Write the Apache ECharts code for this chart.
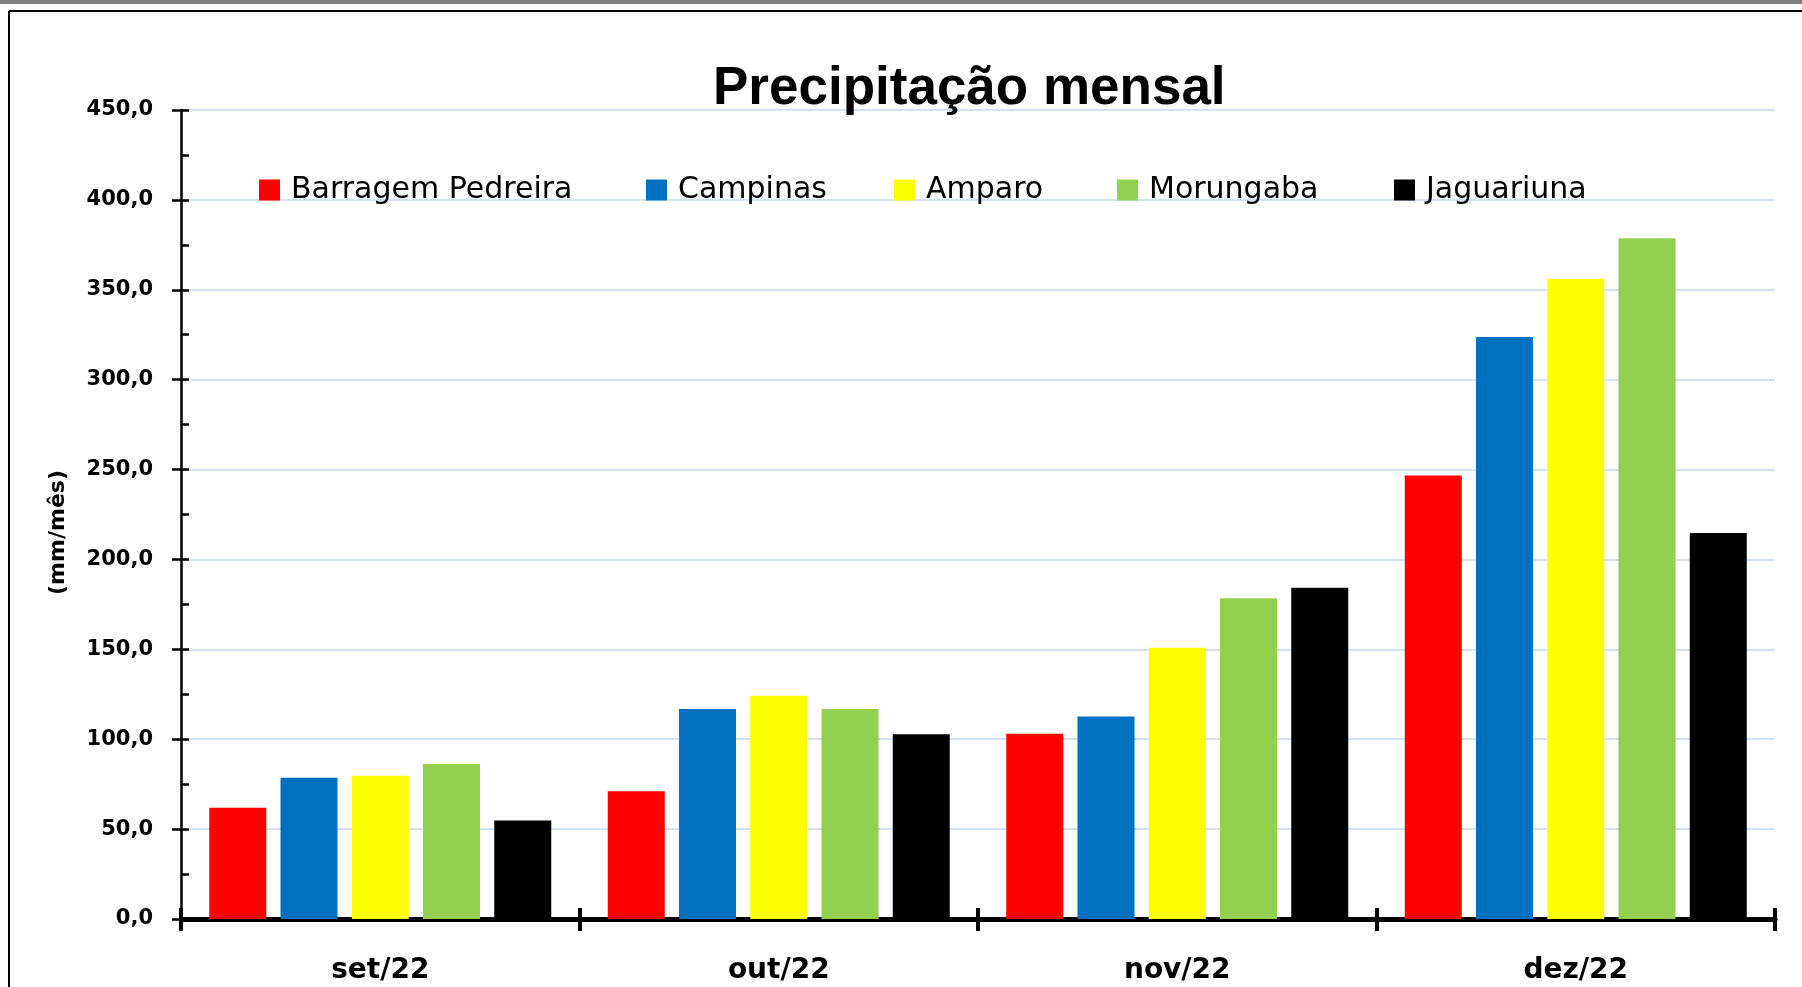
<!DOCTYPE html>
<html>
<head>
<meta charset="utf-8">
<title>Precipitação mensal</title>
<script src="https://cdn.jsdelivr.net/npm/echarts@6/dist/echarts.min.js"></script>
<style>
  html, body { margin: 0; padding: 0; background: #fff; }
  #main { width: 1802px; height: 987px; }
</style>
</head>
<body>
<div id="main"></div>
<script>
// months on the x axis
const months = ['set/22', 'out/22', 'nov/22', 'dez/22'];

// rainfall per station, mm/month
const barragemPedreira = [61.9, 71.1, 103.1, 246.7];
const campinas = [78.6, 116.8, 112.7, 323.8];
const amparo = [79.7, 124.2, 150.9, 356.1];
const morungaba = [86.2, 116.8, 178.4, 378.7];
const jaguariuna = [54.8, 102.7, 184.3, 214.7];

const stations = ['Barragem Pedreira', 'Campinas', 'Amparo', 'Morungaba', 'Jaguariuna'];
const colors = ['#ff0000', '#0070c0', '#ffff00', '#92d050', '#000000'];
const values = [barragemPedreira, campinas, amparo, morungaba, jaguariuna];

// x position of each legend marker
const legendLeft = [259, 646, 894, 1117, 1394];

const chart = echarts.init(document.getElementById('main'));

const series = stations.map((name, i) => ({
    name: name,
    type: 'bar',
    data: values[i],
    barWidth: 57,
    barGap: '25%',
    itemStyle: { color: colors[i] },
    xAxisIndex: 0,
    yAxisIndex: 0
}));

const legends = stations.map((name, i) => ({
    data: [name],
    left: legendLeft[i],
    top: 175,
    padding: 0,
    icon: 'rect',
    itemWidth: 21,
    itemHeight: 21,
    selectedMode: false,
    textStyle: {
        fontFamily: 'DejaVu Sans',
        fontSize: 30,
        color: '#000',
        padding: [0, 0, 0, 6]
    }
}));

const option = {
    animation: false,
    backgroundColor: '#ffffff',
    title: {
        text: 'Precipitação mensal',
        left: 708,
        top: 58,
        textStyle: {
            fontFamily: 'Liberation Sans',
            fontWeight: 'bold',
            fontSize: 53,
            color: '#000'
        }
    },
    legend: legends,
    grid: { left: 181, right: 27, top: 110, bottom: 68 },
    xAxis: [{
        type: 'category',
        data: months,
        position: 'bottom',
        axisLine: { lineStyle: { color: '#000', width: 5 } },
        axisTick: { show: true, interval: 0, length: 12, lineStyle: { color: '#000', width: 4 } },
        axisLabel: {
            margin: 38,
            fontFamily: 'DejaVu Sans',
            fontWeight: 'bold',
            fontSize: 28,
            color: '#000'
        }
    }, {
        type: 'category',
        data: months,
        position: 'bottom',
        axisLine: { show: false },
        axisTick: { show: true, inside: true, interval: 0, length: 11, lineStyle: { color: '#000', width: 4 } },
        axisLabel: { show: false }
    }],
    yAxis: [{
        type: 'value',
        min: 0,
        max: 450,
        interval: 50,
        name: '(mm/mês)',
        nameLocation: 'middle',
        nameRotate: 90,
        nameGap: 112,
        nameTextStyle: {
            fontFamily: 'DejaVu Sans',
            fontWeight: 'bold',
            fontSize: 22,
            color: '#000',
            padding: [0, 36, 0, 0]
        },
        axisLine: { show: true, lineStyle: { color: '#000', width: 2.5 } },
        axisTick: { show: true, length: 9, lineStyle: { color: '#000', width: 2.5 } },
        axisLabel: {
            margin: 28,
            fontFamily: 'DejaVu Sans',
            fontWeight: 'bold',
            fontSize: 21,
            color: '#000',
            formatter: v => v.toFixed(1).replace('.', ',')
        },
        splitLine: { show: true, lineStyle: { color: '#d5e1f1', width: 2 } }
    }, {
        // inner ticks every 25 mm
        type: 'value',
        min: 0,
        max: 450,
        interval: 25,
        position: 'left',
        axisLine: { show: false },
        axisTick: { show: true, inside: true, length: 8, lineStyle: { color: '#000', width: 2.5 } },
        axisLabel: { show: false },
        splitLine: { show: false }
    }],
    graphic: [
        { type: 'rect', shape: { x: 0, y: 0, width: 1802, height: 4 }, style: { fill: '#808080' } },
        { type: 'line', shape: { x1: 9, y1: 11, x2: 1802, y2: 11 }, style: { stroke: '#000', lineWidth: 2 } },
        { type: 'line', shape: { x1: 9, y1: 11, x2: 9, y2: 987 }, style: { stroke: '#000', lineWidth: 2 } }
    ],
    series: series
};

chart.setOption(option);
</script>
</body>
</html>
